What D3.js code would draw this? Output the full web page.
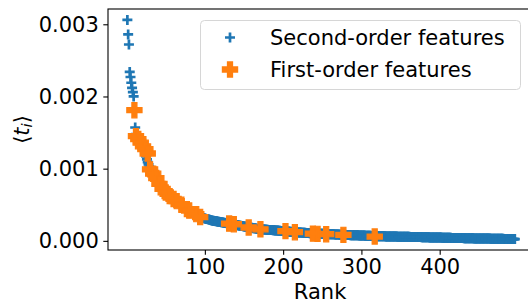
<!DOCTYPE html>
<html>
<head>
<meta charset="utf-8">
<script src="https://cdn.jsdelivr.net/npm/d3@7"></script>
<style>
  body { margin: 0; background: #fff; }
  svg { font-family: "DejaVu Sans", sans-serif; }
</style>
</head>
<body>
<svg id="chart" width="528" height="303"></svg>
<script>
// second-order features, value per rank (rank = index + 1), in units of 1e-5
var secondOrder = [
  306,286,272,234,227,219,212,206,200,181, 157,148,146,144,142,140,138,136,134,132,
  130,128,125,122,117,113,109,106,103,100, 97,95,94,93,91,89,88,87,85,83,
  81,79,77,75,73,72,71,69,68,67, 66,65,64,63,62,61,60,59,58.5,58,
  57,56,55.5,55,54,53,52,51.5,51,50, 49,48,47,46,45.5,45,44,43.5,43,42,
  41.5,41,40.5,40,39.5,39,38.5,38,37,36.5, 36,35,34,33,32.7,32.4,32,31.7,31.4,31,
  // 101-131
  30.7,30.4,30.1,29.8,29.5,29.2,28.9,28.6,28.3,28,
  27.8,27.6,27.4,27.2,27,26.8,26.6,26.4,26.2,26,
  25.8,25.6,25.4,25.2,25,24.8,24.6,24.4,24.2,24.1,24,
  // 132-172
  23.8,23.6,23.3,23,22.8,22.6,22.4,22.2,22,
  21.8,21.6,21.4,21.2,21,20.8,20.6,20.4,20.2,20,
  19.8,19.6,19.4,19.1,18.8,18.5,18.4,18.3,18.1,18,
  17.8,17.6,17.4,17.3,17.1,16.9,16.7,16.5,16.4,16.2,16.1,16,
  // 173-230
  15.9,15.8,15.7,15.6,15.6,15.5,15.4,15.3,15.2,15.2,15.1,15.1,15,
  14.9,14.8,14.7,14.6,14.5,14.4,14.3,14.2,14.1,14,13.9,13.8,13.7,13.6,13.5,
  13.4,13.3,13.2,13.1,13,12.9,12.8,12.7,12.6,12.5,12.4,12.3,12.2,12.1,12,
  11.9,11.9,11.8,11.7,11.6,11.5,11.5,11.4,11.3,11.3,11.2,11.1,11.1,11,11,
  // 231-300
  10.9,10.9,10.8,10.7,10.7,10.6,10.5,10.4,10.4,10.3,10.2,10.2,10.1,10.1,10,
  9.9,9.9,9.8,9.8,9.7,9.7,9.6,9.6,9.5,9.5,9.4,9.4,9.3,9.3,9.2,
  9.2,9.1,9.1,9,9,8.9,8.9,8.8,8.8,8.7,8.7,8.6,8.6,8.5,8.5,8.4,8.4,8.3,8.3,8.2,
  8.2,8.1,8.1,8,8,7.9,7.9,7.9,7.8,7.8,7.7,7.7,7.7,7.6,7.6,7.6,7.5,7.5,7.5,7.5,
  // 301-400
  7.4,7.4,7.3,7.3,7.2,7.2,7.1,7.1,7,7,6.9,6.9,6.8,6.8,6.7,6.7,6.6,6.6,6.5,6.5,
  6.5,6.4,6.4,6.4,6.3,6.3,6.3,6.2,6.2,6.2,6.1,6.1,6.1,6.1,6,6,6,6,6,6,
  6,5.9,5.9,5.9,5.9,5.8,5.8,5.8,5.8,5.8,5.7,5.7,5.7,5.7,5.7,5.6,5.6,5.6,5.6,5.6,5.6,5.5,5.5,5.5,5.5,5.5,
  5.5,5.4,5.4,5.4,5.3,5.3,5.3,5.2,5.2,5.2,5.1,5.1,5.1,5.1,5,5,5,4.9,4.9,4.9,
  4.8,4.8,4.8,4.8,4.7,4.7,4.7,4.7,4.6,4.6,4.6,4.6,4.5,4.5,
  // 401-496
  4.5,4.5,4.4,4.4,4.4,4.4,4.3,4.3,4.3,4.3,4.2,4.2,4.2,4.2,4.1,4.1,4.1,4.1,4,4,
  4,4,3.9,3.9,3.9,3.9,3.8,3.8,3.8,3.8,3.7,3.7,3.7,3.7,3.6,3.6,3.6,3.6,3.5,3.5,
  3.5,3.5,3.5,3.4,3.4,3.4,3.4,3.4,3.3,3.3,3.3,3.3,3.3,3.2,3.2,3.2,3.2,3.2,3.1,3.1,
  3.1,3.1,3.1,3.1,3,3,3,3,3,3,
  3,2.9,2.9,2.9,2.9,2.9,2.8,2.8,2.8,2.8,2.8,2.7,2.7,2.7,2.7,2.7,2.6,2.6,2.6,2.6,
  2.6,2.5,2.5,2.5,2.5,2.5
];

// first-order features: rank and value (units of 1e-5)
var firstRanks  = [10, 12, 15, 18, 21, 24, 27, 30, 34, 38, 42, 46, 50, 55, 60, 64, 70, 77, 80, 89, 94,
                   131, 137, 156, 171, 203, 215, 238, 244, 255, 277, 317];
var firstValues = [181, 145, 141, 136, 131, 127, 121, 99, 93, 87, 79, 72, 67, 62, 58, 55, 50, 44, 42, 37, 33,
                   24, 23, 18.5, 16, 13.5, 12, 10, 9.7, 9.2, 8.3, 6];

var xTicks = [100, 200, 300, 400];
var yTicks = [0, 0.001, 0.002, 0.003];
var seriesNames = ['Second-order features', 'First-order features'];
var blue = '#1f77b4';
var orange = '#ff7f0e';

var svg = d3.select('#chart');
var plot = { left: 108, right: 534.2, top: 9, bottom: 250 };

var secondData = secondOrder.map((v, i) => ({ rank: i + 1, val: v * 1e-5 }));
var firstData = firstRanks.map((r, i) => ({ rank: r, val: firstValues[i] * 1e-5 }));

// matplotlib-ish 5% margins
var xMin = 1, xMax = secondData.length;
var xPad = (xMax - xMin) * 0.05;
var x = d3.scaleLinear().domain([xMin - xPad, xMax + xPad]).range([plot.left, plot.right]);
var yMax = d3.max(secondData, d => d.val), yMin = d3.min(secondData, d => d.val);
var yPad = (yMax - yMin) * 0.05;
var y = d3.scaleLinear().domain([yMin - yPad, yMax + yPad]).range([plot.bottom, plot.top]);

// markers
var plusPath = 'M-5,0H5M0,-5V5';
function filledPlus(s) {
  var a = s / 3;
  return `M${-a},${-s}H${a}V${-a}H${s}V${a}H${a}V${s}H${-a}V${a}H${-s}V${-a}H${-a}Z`;
}
var pPath = filledPlus(7.6);

var g = svg.append('g');
g.selectAll('path.second')
  .data(secondData)
  .enter().append('path')
  .attr('class', 'second')
  .attr('d', plusPath)
  .attr('transform', d => `translate(${x(d.rank)},${y(d.val)})`)
  .attr('stroke', blue)
  .attr('stroke-width', 2.7)
  .attr('fill', 'none');

g.selectAll('path.first')
  .data(firstData)
  .enter().append('path')
  .attr('class', 'first')
  .attr('d', pPath)
  .attr('transform', d => `translate(${x(d.rank)},${y(d.val)})`)
  .attr('fill', orange)
  .attr('stroke', orange)
  .attr('stroke-width', 1.2)
  .attr('stroke-linejoin', 'miter');

// axes
var xAxis = svg.append('g')
  .attr('transform', `translate(0,${plot.bottom})`)
  .call(d3.axisBottom(x).tickValues(xTicks).tickSize(4.7).tickPadding(4.5));
var yAxis = svg.append('g')
  .attr('transform', `translate(${plot.left},0)`)
  .call(d3.axisLeft(y).tickValues(yTicks).tickFormat(d3.format('.3f')).tickSize(4.7).tickPadding(4.5));

[xAxis, yAxis].forEach(ax => {
  ax.select('.domain').remove();
  ax.selectAll('.tick line').attr('stroke', '#000').attr('stroke-width', 1.1);
  ax.selectAll('.tick text')
    .attr('fill', '#000')
    .style('font-size', '21px')
    .style('font-family', '"DejaVu Sans", sans-serif');
});

// spines (right spine is off the picture)
svg.append('rect')
  .attr('x', plot.left).attr('y', plot.top)
  .attr('width', plot.right - plot.left).attr('height', plot.bottom - plot.top)
  .attr('fill', 'none').attr('stroke', '#000').attr('stroke-width', 1.1);

// labels
svg.append('text')
  .attr('x', (plot.left + plot.right) / 2 - 1)
  .attr('y', 299)
  .attr('text-anchor', 'middle')
  .style('font-size', '21px')
  .text('Rank');

var yl = svg.append('text')
  .attr('transform', `translate(29,${(plot.top + plot.bottom) / 2}) rotate(-90)`)
  .attr('text-anchor', 'middle')
  .style('font-size', '21px');
yl.append('tspan').text('\u27E8');
yl.append('tspan').style('font-style', 'italic').text('t');
yl.append('tspan').style('font-style', 'italic').style('font-size', '14.7px').attr('dy', 3).text('i');
yl.append('tspan').attr('dy', -3).text('\u27E9');

// legend
var legend = svg.append('g');
legend.append('rect')
  .attr('x', 200.5).attr('y', 20.5)
  .attr('width', 320).attr('height', 69)
  .attr('rx', 4)
  .attr('fill', '#fff').attr('fill-opacity', 0.8)
  .attr('stroke', '#d6d6d6').attr('stroke-width', 1);

var items = legend.selectAll('g.item')
  .data(seriesNames)
  .enter().append('g')
  .attr('class', 'item')
  .attr('transform', (d, i) => `translate(230,${37.5 + i * 32})`);
items.append('path')
  .attr('d', (d, i) => i === 0 ? plusPath : pPath)
  .attr('stroke', (d, i) => i === 0 ? blue : orange)
  .attr('stroke-width', (d, i) => i === 0 ? 2.7 : 1.2)
  .attr('fill', (d, i) => i === 0 ? 'none' : orange);
items.append('text')
  .attr('x', 40)
  .attr('dy', '0.35em')
  .style('font-size', '21px')
  .text(d => d);
</script>
</body>
</html>
